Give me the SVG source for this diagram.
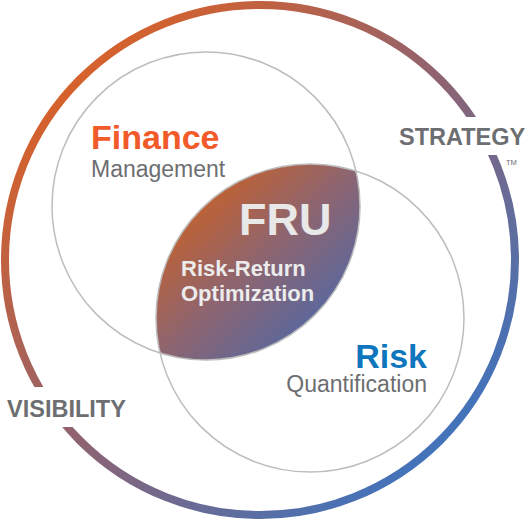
<svg xmlns="http://www.w3.org/2000/svg" width="528" height="521" viewBox="0 0 528 521">
<defs>
<linearGradient id="gOuter" x1="0" y1="0" x2="1" y2="1">
<stop offset="0.12" stop-color="#da6128"/>
<stop offset="0.5" stop-color="#8e6371"/>
<stop offset="0.88" stop-color="#3e74bf"/>
</linearGradient>
<linearGradient id="gLens" x1="0.1" y1="0.1" x2="0.9" y2="0.9">
<stop offset="0.1" stop-color="#c4612e"/>
<stop offset="0.5" stop-color="#8d6570"/>
<stop offset="0.92" stop-color="#5468a3"/>
</linearGradient>
<style>
.circ{fill:none;stroke:#bdbdbd;stroke-width:1.5}
.t{font-family:"Liberation Sans",Arial,Helvetica,sans-serif}
.b{font-weight:bold}
.gray{fill:#6d6e71}
</style>
</defs>
<g id="outer-ring">
<circle cx="260" cy="260" r="255" fill="none" stroke="url(#gOuter)" stroke-width="8"/>
<rect x="385" y="117" width="143" height="38" fill="#fff"/>
<rect x="0" y="387" width="140" height="40" fill="#fff"/>
</g>
<g id="fru">
<path d="M356,171 A154,154 0 0 0 160,353 A154,154 0 0 0 356,171 Z" fill="url(#gLens)"/>
<text class="t b" x="239" y="235" font-size="45" fill="#e8e8e8">FRU</text>
<text class="t b" x="181" y="276" font-size="22" fill="#ececec">Risk-Return</text>
<text class="t b" x="181" y="301" font-size="22" fill="#ececec">Optimization</text>
</g>
<g id="finance">
<circle class="circ" cx="206" cy="206" r="154"/>
<text class="t b" x="91" y="149" font-size="34" fill="#f15a29">Finance</text>
<text class="t gray" x="91" y="177" font-size="23">Management</text>
</g>
<g id="risk">
<circle class="circ" cx="310" cy="318" r="154"/>
<text class="t b" x="427" y="368" font-size="34" fill="#0f75bc" text-anchor="end">Risk</text>
<text class="t gray" x="427" y="392" font-size="23" text-anchor="end">Quantification</text>
</g>
<g id="strategy">
<text class="t b gray" x="399" y="145" font-size="23.5">STRATEGY</text>
<text class="t gray" x="506" y="165" font-size="7.5">TM</text>
</g>
<g id="visibility">
<text class="t b gray" x="7" y="417" font-size="23.5">VISIBILITY</text>
</g>
<g id="connectors"/>
</svg>
